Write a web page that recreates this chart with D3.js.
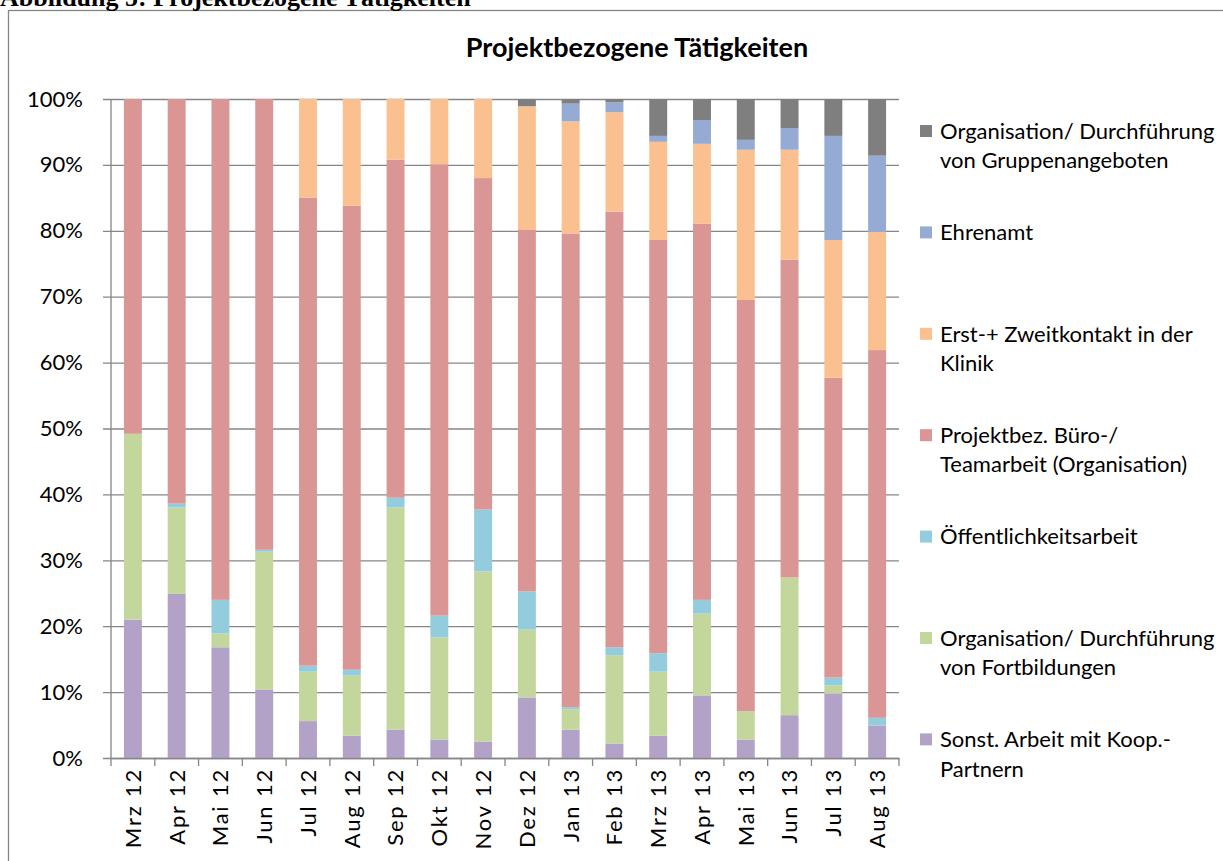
<!DOCTYPE html>
<html>
<head>
<meta charset="utf-8">
<script src="https://cdn.jsdelivr.net/npm/d3@7"></script>
<style>
    body { margin: 0; background: #fff; }
    text { font-family: Lato, sans-serif; fill: #000; }
    .heading { font-family: "Liberation Serif", serif; font-weight: bold; font-size: 26px; }
    .title { font-weight: bold; font-size: 27px; }
    .axis text { font-size: 22px; }
    .x.axis text { letter-spacing: 1.8px; }
    .legend text { font-size: 22px; }
    .grid line, .axis line, .axis path, .frame { stroke: #868686; stroke-width: 1.3; }
</style>
</head>
<body>
<div id="chart"></div>
<script>
// set the dimensions and margins of the graph
let margin = {top: 99, right: 324, bottom: 103, left: 111},
    width = 1223 - margin.left - margin.right,
    height = 861 - margin.top - margin.bottom;

// categories (months)
const MONTHS = ["Mrz 12", "Apr 12", "Mai 12", "Jun 12", "Jul 12", "Aug 12", "Sep 12", "Okt 12", "Nov 12",
    "Dez 12", "Jan 13", "Feb 13", "Mrz 13", "Apr 13", "Mai 13", "Jun 13", "Jul 13", "Aug 13"];

// series values in percent (bottom to top of the stack)
const sonstKoop     = [21.0, 24.9, 16.8, 10.4, 5.6, 3.4, 4.3, 2.8, 2.5, 9.2, 4.3, 2.2, 3.4, 9.5, 2.8, 6.5, 9.8, 4.9];
const fortbildungen = [28.2, 13.1, 2.1, 20.9, 7.5, 9.1, 33.7, 15.5, 25.8, 10.3, 3.1, 13.4, 9.7, 12.4, 4.3, 20.9, 1.2, 0];
const oeffentlich   = [0, 0.6, 5.1, 0.3, 0.9, 0.9, 1.5, 3.3, 9.4, 5.8, 0.3, 1.2, 2.8, 2.1, 0, 0, 1.2, 1.2];
const bueroTeam     = [50.8, 61.4, 76.0, 68.4, 71.0, 70.4, 51.3, 68.5, 50.3, 54.9, 71.9, 66.1, 62.7, 57.1, 62.4, 48.2, 45.5, 55.8];
const erstZweit     = [0, 0, 0, 0, 15.0, 16.2, 9.2, 9.9, 12.0, 18.8, 17.0, 15.1, 14.9, 12.1, 22.8, 16.7, 20.9, 17.9];
const ehrenamt      = [0, 0, 0, 0, 0, 0, 0, 0, 0, 0, 2.7, 1.5, 0.9, 3.6, 1.5, 3.3, 15.8, 11.6];
const gruppen       = [0, 0, 0, 0, 0, 0, 0, 0, 0, 1.1, 0.7, 0.5, 5.6, 3.2, 6.2, 4.4, 5.6, 8.6];

const KEYS = ["sonst", "fortb", "oeff", "buero", "erst", "ehren", "gruppe"];
const VALUES = [sonstKoop, fortbildungen, oeffentlich, bueroTeam, erstZweit, ehrenamt, gruppen];
const LABELS = [
    ["Sonst. Arbeit mit Koop.-", "Partnern"],
    ["Organisation/ Durchführung", "von Fortbildungen"],
    ["Öffentlichkeitsarbeit"],
    ["Projektbez. Büro-/", "Teamarbeit (Organisation)"],
    ["Erst-+ Zweitkontakt in der", "Klinik"],
    ["Ehrenamt"],
    ["Organisation/ Durchführung", "von Gruppenangeboten"]
];
const COLORS = ["#b3a2c7", "#c3d69b", "#93cddd", "#d99694", "#fac090", "#95abd3", "#7f7f7f"];

const Y_TICKS = [0, 0.1, 0.2, 0.3, 0.4, 0.5, 0.6, 0.7, 0.8, 0.9, 1];

// build table for d3.stack
let rows = MONTHS.map(function (m, i) {
    let r = {month: m};
    KEYS.forEach((k, j) => r[k] = VALUES[j][i]);
    return r;
});

let stacked = d3.stack().keys(KEYS).offset(d3.stackOffsetExpand)(rows);

// set the ranges
let x = d3.scaleBand().domain(MONTHS).range([0, width]).paddingInner(0.59).paddingOuter(0.295);
let y = d3.scaleLinear().domain([0, 1]).range([height, 0]);
let color = d3.scaleOrdinal().domain(KEYS).range(COLORS);

let root = d3.select("#chart").append("svg")
    .attr("width", 1223)
    .attr("height", 861);

// chart frame and headings
root.append("rect")
    .attr("class", "frame")
    .attr("x", 8.5)
    .attr("y", 10.5)
    .attr("width", 1300)
    .attr("height", 900)
    .attr("fill", "none");

root.append("text").attr("class", "heading").attr("x", 0).attr("y", 6)
    .text("Abbildung 5: Projektbezogene Tätigkeiten");

root.append("text").attr("class", "title")
    .attr("x", 637).attr("y", 57)
    .attr("text-anchor", "middle")
    .text("Projektbezogene Tätigkeiten");

let svg = root.append("g")
    .attr("transform", "translate(" + margin.left + "," + margin.top + ")");

// gridlines + y labels
svg.append("g")
    .attr("class", "axis grid")
    .attr("transform", "translate(-8,0)")
    .call(d3.axisLeft(y).tickValues(Y_TICKS).tickFormat(d3.format(".0%"))
        .tickSize(-(width + 8)).tickSizeOuter(0).tickPadding(20))
    .call(g => g.select(".domain").remove());

// bars
svg.append("g").selectAll("g")
    .data(stacked)
    .enter().append("g")
    .attr("fill", (d) => color(d.key))
    .selectAll("rect")
    .data((d) => d)
    .enter().append("rect")
    .attr("x", (d) => x(d.data.month))
    .attr("y", (d) => y(d[1]))
    .attr("width", x.bandwidth())
    .attr("height", (d) => y(d[0]) - y(d[1]));

// vertical axis line
svg.append("line")
    .attr("class", "frame")
    .attr("x1", 0).attr("x2", 0)
    .attr("y1", 0).attr("y2", height);

// x axis: labels at band centres, ticks on the band boundaries
let xAxis = svg.append("g")
    .attr("class", "x axis")
    .attr("transform", "translate(0," + height + ")")
    .call(d3.axisBottom(x).tickSize(0).tickSizeOuter(0));
xAxis.selectAll("text")
    .attr("transform", "rotate(-90)")
    .attr("text-anchor", "end")
    .attr("x", -10)
    .attr("y", 0)
    .attr("dy", "0.36em");

let bounds = MONTHS.map((m) => x(m) - x.step() * x.paddingInner() / 2).concat([width]);
xAxis.selectAll("line.bound")
    .data(bounds)
    .enter().append("line")
    .attr("class", "bound")
    .attr("x1", (d) => d).attr("x2", (d) => d)
    .attr("y1", 0).attr("y2", 8);

// legend (top item is the top of the stack)
let legend = root.append("g")
    .attr("class", "legend")
    .attr("transform", "translate(920,131)");

let item = legend.selectAll("g")
    .data(KEYS.slice().reverse())
    .enter().append("g")
    .attr("transform", (d, i) => "translate(0," + (i * 101.4) + ")");

item.append("rect")
    .attr("x", 0).attr("y", -6)
    .attr("width", 12).attr("height", 12)
    .attr("fill", (d) => color(d));

item.append("text")
    .attr("x", 20)
    .selectAll("tspan")
    .data((d) => LABELS[KEYS.indexOf(d)])
    .enter().append("tspan")
    .attr("x", 20)
    .attr("y", (d, i) => i * 29.5)
    .attr("dy", "0.35em")
    .text((d) => d);
</script>
</body>
</html>
